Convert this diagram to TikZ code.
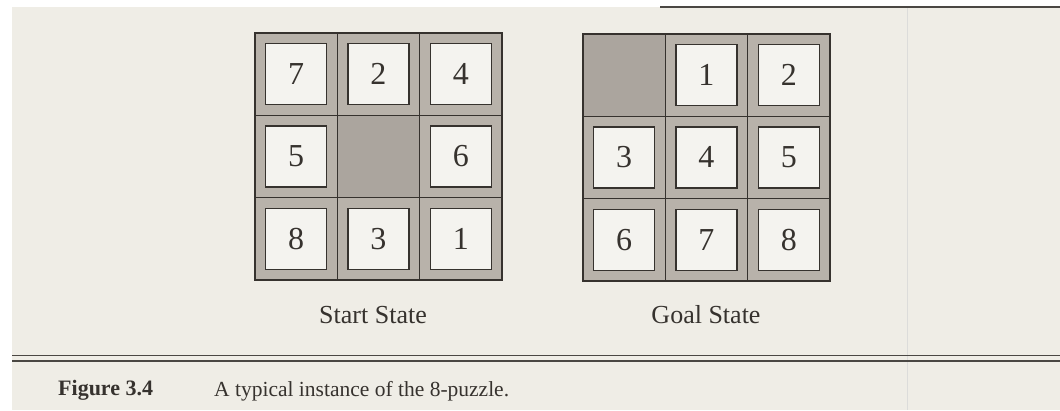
\documentclass[tikz,border=0pt]{standalone}
\usepackage{fontspec}
\setmainfont{Liberation Serif}
\definecolor{paper}{HTML}{EFEDE6}
\definecolor{cellgray}{HTML}{B8B2AA}
\definecolor{blankgray}{HTML}{ABA59E}
\definecolor{tilewhite}{HTML}{F4F3EF}
\definecolor{ink}{HTML}{36322E}
\definecolor{foldline}{HTML}{DCDCDA}
\tikzset{
  cellbox/.style={rectangle, draw=ink, line width=1.3pt, fill=cellgray,
    minimum size=82.3pt, inner sep=0pt, outer sep=0pt},
  tilebox/.style={rectangle, draw=ink, line width=1.5pt, fill=tilewhite,
    minimum size=61pt, inner sep=0pt, outer sep=0pt, text=ink,
    font=\fontsize{32}{32}\selectfont},
  frame/.style={draw=ink, line width=2.4pt},
  label/.style={inner sep=0pt, text=ink, font=\fontsize{26}{26}\selectfont},
  rule/.style={draw=ink!90, line cap=butt}
}
\newcommand\pzcell[4]{%
  \node[cellbox] (#1c) at (#2,#3) {};
  \node[tilebox] (#1) at (#2,#3) {#4};}
\newcommand\pzblank[3]{%
  \node[cellbox, fill=blankgray] (#1) at (#2,#3) {};}
\begin{document}
\begin{tikzpicture}[x=1pt,y=-1pt]
\useasboundingbox (0,0) rectangle (1060,410);
% paper
\fill[white] (0,0) rectangle (1060,410);
\fill[paper] (12,7) rectangle (1060,410);
\draw[foldline, line width=1pt] (907,8) -- (907,410);
\draw[rule, line width=1.4pt] (660,7) -- (1060,7);
% Start state grid: origin (255,33), cell 82.3
\pzcell{s7}{296.15}{74.15}{7}
\pzcell{s2}{378.45}{74.15}{2}
\pzcell{s4}{460.75}{74.15}{4}
\pzcell{s5}{296.15}{156.45}{5}
\pzblank{sb}{378.45}{156.45}
\pzcell{s6}{460.75}{156.45}{6}
\pzcell{s8}{296.15}{238.75}{8}
\pzcell{s3}{378.45}{238.75}{3}
\pzcell{s1}{460.75}{238.75}{1}
\draw[frame] (255,33) rectangle (501.9,279.9);
% Goal state grid: origin (583,34)
\pzblank{gb}{624.15}{75.15}
\pzcell{g1}{706.45}{75.15}{1}
\pzcell{g2}{788.75}{75.15}{2}
\pzcell{g3}{624.15}{157.45}{3}
\pzcell{g4}{706.45}{157.45}{4}
\pzcell{g5}{788.75}{157.45}{5}
\pzcell{g6}{624.15}{239.75}{6}
\pzcell{g7}{706.45}{239.75}{7}
\pzcell{g8}{788.75}{239.75}{8}
\draw[frame] (583,34) rectangle (829.9,280.9);
% labels
\node[label, anchor=base] (startlbl) at (373,323) {Start State};
\node[label, anchor=base] (goallbl) at (706,323) {Goal State};
% rules
\draw[rule, line width=1.3pt] (12,355.7) -- (1060,355.7);
\draw[rule, line width=2pt] (12,360.5) -- (1060,360.5);
% caption
\node[label, anchor=base west, font=\fontsize{22}{22}\selectfont\bfseries] (fig) at (58,395) {Figure 3.4};
\node[label, anchor=base west, font=\fontsize{21.5}{21.5}\selectfont] (cap) at (214,396) {A typical instance of the 8-puzzle.};
\end{tikzpicture}
\end{document}
